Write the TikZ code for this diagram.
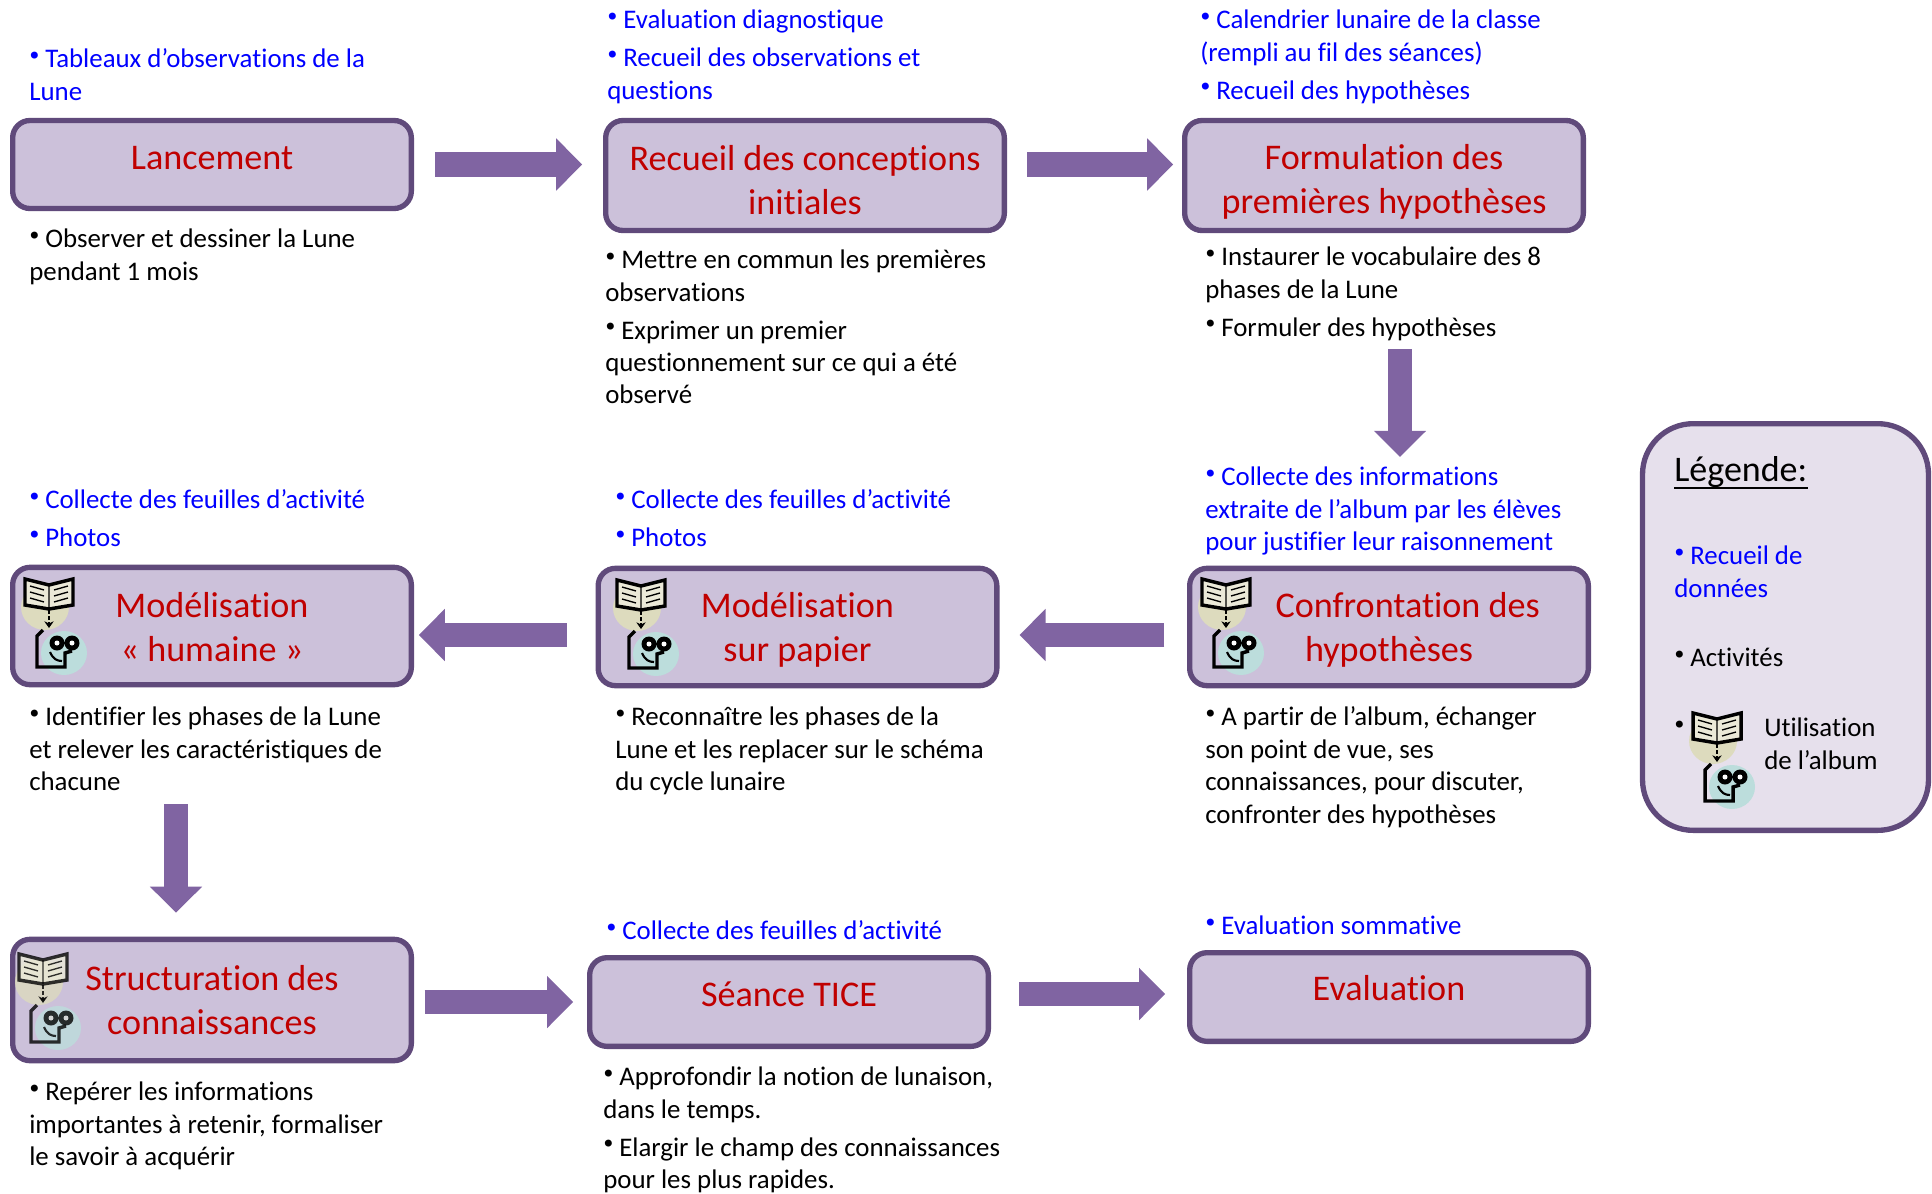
\documentclass[tikz,border=0pt]{standalone}
\usepackage{fontspec}
\setmainfont[Ligatures=NoCommon]{Carlito}
\newfontfamily\pucefont{DejaVu Sans}
\usetikzlibrary{arrows.meta}
\definecolor{boxfill}{RGB}{204,193,218}
\definecolor{boxline}{RGB}{96,74,123}
\definecolor{arrowfill}{RGB}{128,100,162}
\definecolor{titlered}{RGB}{192,0,0}
\definecolor{legendfill}{RGB}{230,224,236}
\definecolor{bookbeige}{RGB}{221,219,190}
\definecolor{faceblue}{RGB}{188,221,220}
\newcommand{\puce}{\strut\makebox[12pt][l]{\hspace*{-1.4pt}\raisebox{2.4pt}{\pucefont\fontsize{18}{18}\selectfont•}}}
\tikzset{
  stagebox/.style={draw=boxline,line width=4pt,fill=boxfill,rounded corners=13pt,inner sep=0pt,outer sep=0pt,
    minimum width=299pt,align=center,text=titlered,font=\fontsize{27.1}{33}\selectfont},
  legendbox/.style={draw=boxline,line width=4pt,fill=legendfill,rounded corners=38pt,inner sep=0pt,
    minimum width=214.5pt,minimum height=305pt},
  bigarrow/.style={arrowfill,line width=18.5pt,-{Triangle[length=19.5pt,width=38pt]}},
  notes/.style={anchor=north west,inner sep=0pt,align=left,font=\fontsize{20.15}{24.3}\selectfont},
  datanotes/.style={notes,text=blue},
  albumicon/.pic={
    \begin{scope}[yscale=-1]
    \fill[bookbeige] (21,29) ellipse (24 and 23);
    \fill[faceblue] (40,75) ellipse (23 and 22);
    \draw[line width=2.6pt,fill=bookbeige!60] (1,1) -- (25,7) -- (49,1) -- (49,27) -- (25,31) -- (1,27) -- cycle;
    \draw[line width=1pt] (6,8) -- (20,12) (6,14) -- (20,18) (6,20) -- (20,24) (30,12) -- (44,8) (30,18) -- (44,14) (30,24) -- (44,20) (25,7) -- (25,31);
    \draw[line width=1.4pt,dash pattern=on 3pt off 1.5pt,-{Stealth[length=5pt,width=7pt]}] (25,32) -- (25,50);
    \draw[line width=2.6pt] (19,52) -- (13,58) -- (13,89) -- (41,89) -- (41,75) -- (48,73);
    \fill (33,65) circle (7.5) (48,65) circle (7.5);
    \fill[white] (33,65) circle (2.5) (48,65) circle (2.5);
    \draw[line width=1.6pt] (26,74) .. controls (29,81) and (33,83) .. (38,83);
    \end{scope}
  }
}
\begin{document}
\begin{tikzpicture}[x=0.75pt,y=0.75pt,yscale=-1,xscale=1]
\useasboundingbox (0,0) rectangle (1932,1193);

% Stages
\node[stagebox,minimum height=66pt] (lancement) at (212,164.5) {Lancement\rule[-10pt]{0pt}{0pt}};
\node[stagebox,minimum height=82.5pt] (recueil) at (805,175.5) {\rule{0pt}{25pt}Recueil des conceptions\\initiales};
\node[stagebox,minimum height=82.5pt] (formul) at (1384,175.5) {\rule{0pt}{29pt}Formulation des\\premières hypothèses};
\node[stagebox,minimum height=88pt] (confront) at (1389,627) {\rule{0pt}{23pt}\hspace*{28pt}Confrontation des\\hypothèses};
\node[stagebox,minimum height=88pt] (modpapier) at (797.5,627) {\rule{0pt}{23pt}Modélisation\\sur papier};
\node[stagebox,minimum height=88pt] (humaine) at (212,626) {\rule{0pt}{21pt}Modélisation\\« humaine »};
\node[stagebox,minimum height=91pt] (structur) at (212,1000) {Structuration des\\connaissances};
\node[stagebox,minimum height=66.5pt] (seance) at (789,1002) {Séance TICE\rule[-12pt]{0pt}{0pt}};
\node[stagebox,minimum height=66.5pt] (evalu) at (1389,997) {Evaluation\rule[-13.7pt]{0pt}{0pt}};
\node[legendbox] (legende) at (1785.5,627) {};

% Arrows
\draw[bigarrow,shorten <=17.6pt,shorten >=17.6pt] (lancement.east) -- (lancement.east -| recueil.west);
\draw[bigarrow,shorten <=17pt,shorten >=8.6pt] ([yshift=-8.25pt]recueil.east) -- ([yshift=-8.25pt]formul.west);
\draw[bigarrow,shorten <=89pt,shorten >=83.6pt] ([xshift=12pt]formul.south) -- ([xshift=8.25pt]confront.north);
\draw[bigarrow,shorten <=19pt,shorten >=17pt] ([yshift=6pt]confront.west) -- ([yshift=6pt]modpapier.east);
\draw[bigarrow,shorten <=23.6pt,shorten >=5.6pt] ([yshift=6pt]modpapier.west) -- ([yshift=6pt]modpapier.west -| humaine.east);
\draw[bigarrow,shorten <=89.6pt,shorten >=20pt] ([xshift=-27pt]humaine.south) -- ([xshift=-27pt]structur.north);
\draw[bigarrow,shorten <=10pt,shorten >=12.4pt] (structur.east |- seance.west) -- (seance.west);
\draw[bigarrow,shorten <=23pt,shorten >=18.4pt] ([yshift=-2.25pt]seance.east |- evalu.west) -- ([yshift=-2.25pt]evalu.west);

% Icons
\path (24,578) pic {albumicon};
\path (616,579) pic {albumicon};
\path (1201,578) pic {albumicon};
\path (18,953) pic[opacity=.8] {albumicon};
\path (1692,712) pic {albumicon};

% Text Node
\node[datanotes] (lancdata) at (29,45) {\puce Tableaux d’observations de la\\Lune};
\node[notes] (lancact) at (29,225) {\puce Observer et dessiner la Lune\\pendant 1 mois};
\node[datanotes] (recdata) at (607,6) {\puce Evaluation diagnostique\\[4pt]\puce Recueil des observations et\\questions};
\node[notes] (recact) at (605,246) {\puce Mettre en commun les premières\\observations\\[4pt]\puce Exprimer un premier\\questionnement sur ce qui a été\\observé};
\node[datanotes] (fordata) at (1200,6) {\puce Calendrier lunaire de la classe\\(rempli au fil des séances)\\[4pt]\puce Recueil des hypothèses};
\node[notes] (foract) at (1205,243) {\puce Instaurer le vocabulaire des 8\\phases de la Lune\\[4pt]\puce Formuler des hypothèses};
\node[datanotes] (condata) at (1205,463) {\puce Collecte des informations\\extraite de l’album par les élèves\\pour justifier leur raisonnement};
\node[notes] (conact) at (1205,703) {\puce A partir de l’album, échanger\\son point de vue, ses\\connaissances, pour discuter,\\confronter des hypothèses};
\node[datanotes] (moddata) at (615,486) {\puce Collecte des feuilles d’activité\\[4pt]\puce Photos};
\node[notes] (modact) at (615,703) {\puce Reconnaître les phases de la\\Lune et les replacer sur le schéma\\du cycle lunaire};
\node[datanotes] (humdata) at (29,486) {\puce Collecte des feuilles d’activité\\[4pt]\puce Photos};
\node[notes] (humact) at (29,703) {\puce Identifier les phases de la Lune\\et relever les caractéristiques de\\chacune};
\node[notes] (stract) at (29,1078) {\puce Repérer les informations\\importantes à retenir, formaliser\\le savoir à acquérir};
\node[datanotes] (seadata) at (606,917) {\puce Collecte des feuilles d’activité};
\node[notes] (seaact) at (603,1063) {\puce Approfondir la notion de lunaison,\\dans le temps.\\[4pt]\puce Elargir le champ des connaissances\\pour les plus rapides.};
\node[datanotes] (evadata) at (1205,912) {\puce Evaluation sommative};

% Legend
\node[notes,font=\fontsize{27}{33}\selectfont] (legtitle) at (1674,456) {\rlap{\rule[-6pt]{100pt}{2pt}}Légende:};
\node[datanotes] (legdata) at (1674,542) {\puce Recueil de\\données};
\node[notes] (legact) at (1674,644) {\puce Activités};
\node[notes] (legalbum) at (1674,714) {\puce};
\node[notes] (legalbumtxt) at (1764,718) {Utilisation\\de l’album};
\end{tikzpicture}
\end{document}
